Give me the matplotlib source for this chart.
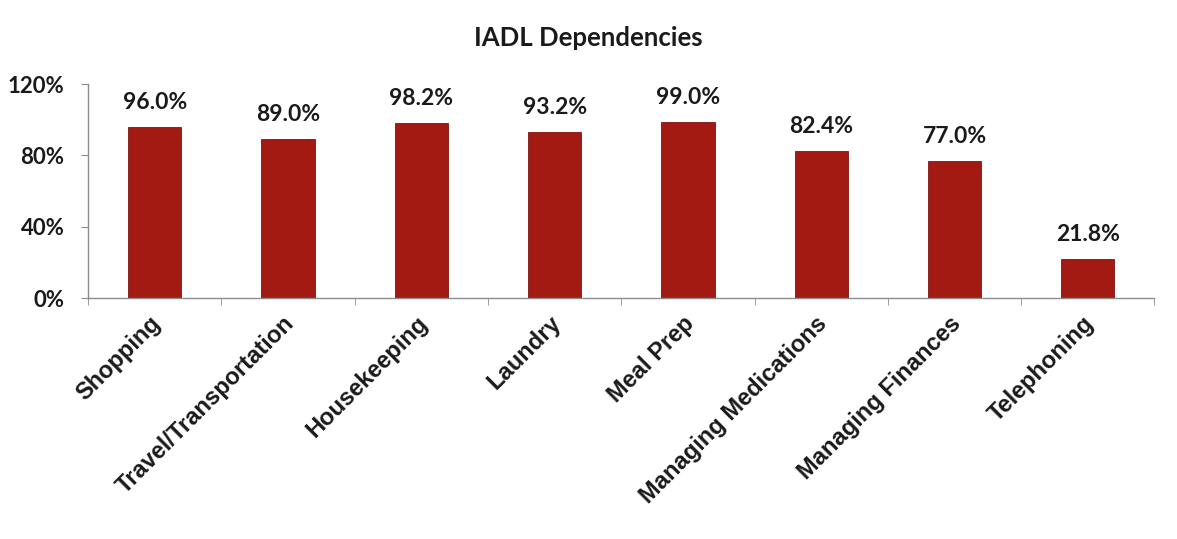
import matplotlib
matplotlib.use('Agg')
import numpy as np
import matplotlib.pyplot as plt

categories = ["Shopping", "Travel/Transportation", "Housekeeping", "Laundry",
              "Meal Prep", "Managing Medications", "Managing Finances", "Telephoning"]
values = [96.0, 89.0, 98.2, 93.2, 99.0, 82.4, 77.0, 21.8]
yticks = [0, 40, 80, 120]

BAR_COLOR = '#A31A13'
AXIS_COLOR = '#8C8C8C'
TEXT_COLOR = '#1a1a1a'

fig = plt.figure(figsize=(11.77, 5.39), dpi=100)
ax = fig.add_axes([0.0748, 0.447, 0.906, 0.397])

x = np.arange(len(categories))
ax.bar(x, values, width=0.4, color=BAR_COLOR, edgecolor='#7E1410', linewidth=0.6)

for xi, v in zip(x, values):
    ax.annotate("{:.1f}%".format(v), (xi, v), xytext=(0, 10), textcoords='offset points',
                ha='center', va='bottom', fontsize=16.5, fontweight='bold',
                family='Lato', color=TEXT_COLOR)

ax.set_xlim(-0.5, len(categories) - 0.5)
ax.set_ylim(0, 120)
ax.set_yticks(yticks)
ax.set_yticklabels(["{}%".format(t) for t in yticks], fontsize=16, fontweight='bold',
                   family='Lato', color=TEXT_COLOR)

ax.set_xticks(x - 0.04)
ax.set_xticklabels(categories, rotation=45, ha='right', rotation_mode='anchor',
                   fontsize=17, fontweight='bold', family='Liberation Sans', color=TEXT_COLOR)
ax.tick_params(axis='x', length=0, pad=10)
ax.set_xticks(np.arange(len(categories) + 1) - 0.5, minor=True)
ax.tick_params(axis='x', which='minor', length=5, color=AXIS_COLOR, direction='out')
ax.tick_params(axis='y', length=5, color=AXIS_COLOR, direction='out', pad=12)

for side in ['top', 'right']:
    ax.spines[side].set_visible(False)
for side in ['left', 'bottom']:
    ax.spines[side].set_color(AXIS_COLOR)
    ax.spines[side].set_linewidth(1)

fig.text(0.5, 0.93, "IADL Dependencies", ha='center', va='center', fontsize=18.5,
         fontweight='bold', family='Lato', color=TEXT_COLOR)

fig.savefig("out.png", dpi=100)
